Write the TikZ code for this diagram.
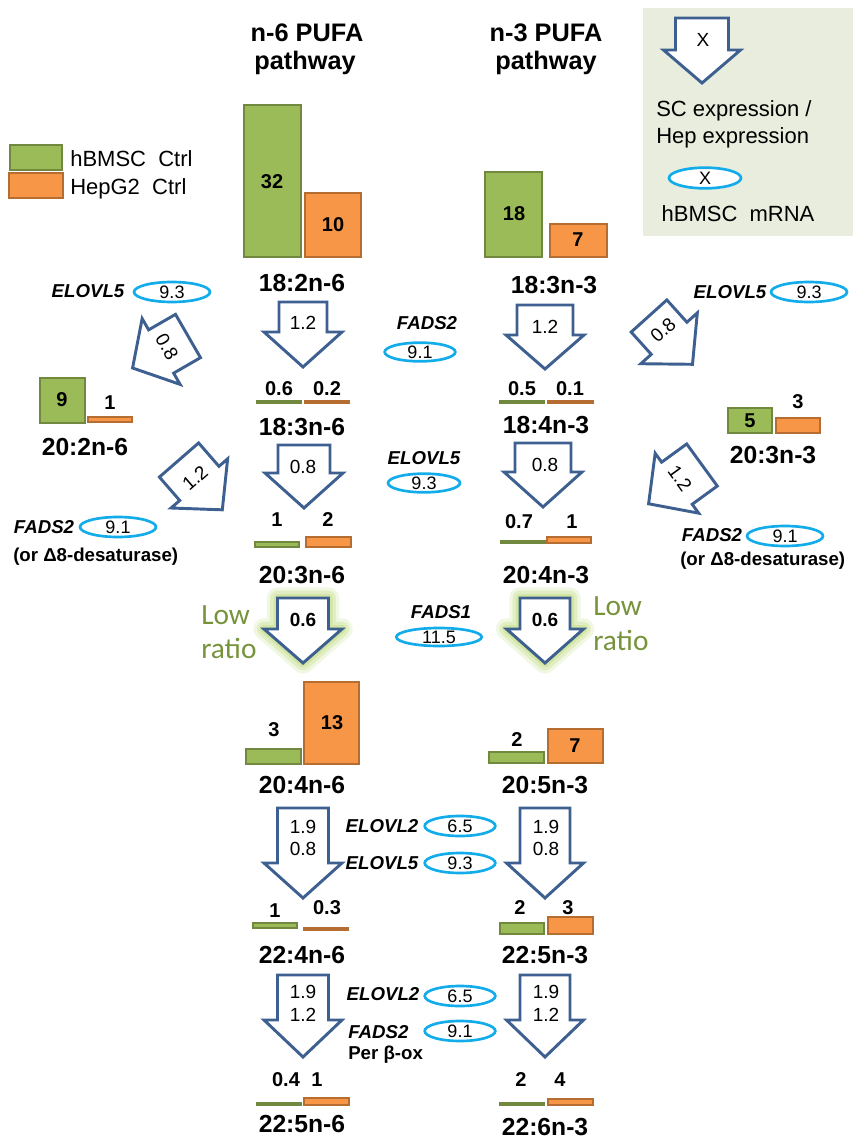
\documentclass[tikz,border=0pt]{standalone}
\usepackage{fontspec}
\setmainfont{Liberation Sans}
\newfontfamily\calib{Carlito}
\usetikzlibrary{shapes.geometric}

\definecolor{abl}{HTML}{3D6090}
\definecolor{ecy}{HTML}{12ACEA}
\definecolor{gfill}{HTML}{9BBB59}
\definecolor{gline}{HTML}{71893F}
\definecolor{ofill}{HTML}{F79646}
\definecolor{oline}{HTML}{B66D31}
\definecolor{legbg}{HTML}{E8EDDD}
\definecolor{lowtxt}{HTML}{77933C}
\definecolor{glowc}{HTML}{C5DE8A}

% block arrow: #1 extra style, #2 name, #3,#4 centre of the back edge,
% #5 rotation, #6 half shaft width, #7 half head width, #8 head start, #9 tip
\newcommand{\blockarrow}[9]{%
  \begin{scope}[shift={(#3,#4)}, rotate=#5]
    \coordinate (#2) at (0,#9/2);
    \draw[arrowline,#1] (-#6,0) -- (#6,0) -- (#6,#8) -- (#7,#8) -- (0,#9)
      -- (-#7,#8) -- (-#6,#8) -- cycle;
  \end{scope}}

\begin{document}
\begin{tikzpicture}[x=0.75pt,y=-0.75pt,
  arrowline/.style={draw=abl, line width=2.2pt, fill=white},
  glow/.style={
    preaction={draw=glowc, draw opacity=0.25, line width=16pt, line join=round},
    preaction={draw=glowc, draw opacity=0.35, line width=11pt, line join=round},
    preaction={draw=glowc, draw opacity=0.55, line width=6pt, line join=round}},
  gbar/.style={draw=gline, fill=gfill, line width=1.1pt},
  obar/.style={draw=oline, fill=ofill, line width=1.1pt},
  ttl/.style={font=\bfseries\fontsize{19}{22}\selectfont, inner sep=0},
  fa/.style={font=\bfseries\fontsize{18.5}{21}\selectfont, inner sep=0},
  val/.style={font=\bfseries\fontsize{15}{17}\selectfont, inner sep=0},
  num/.style={font=\fontsize{14.25}{16.5}\selectfont, inner sep=0, align=center},
  gene/.style={font=\bfseries\itshape\fontsize{14}{16}\selectfont, inner sep=0},
  genenote/.style={font=\bfseries\fontsize{14}{16}\selectfont, inner sep=0},
  legtxt/.style={font=\fontsize{16.5}{19}\selectfont, inner sep=0},
  lowtext/.style={font=\calib\fontsize{22}{26}\selectfont, text=lowtxt, inner sep=0},
  mrna/.style={ellipse, draw=ecy, line width=2pt, fill=white, inner sep=0,
    minimum width=57pt, minimum height=15pt, font=\fontsize{13.5}{16}\selectfont},
]
\useasboundingbox (0,0) rectangle (853,1141);

% ---------- key panel ----------
\fill[legbg] (643,8) rectangle (853,236);
\blockarrow{}{legarrow}{702}{18}{0}{26.5}{38.5}{32}{65}
\node[num] (legx) at (703,40) {X};
\node[legtxt, anchor=base west] (legsc) at (656,117) {SC expression /};
\node[legtxt, anchor=base west] (leghep) at (656,144) {Hep expression};
\node[mrna, minimum width=54pt, minimum height=15.5pt] (legmrna) at (705,178) {X};
\node[legtxt, anchor=base] (legmrnatxt) at (738,222) {hBMSC\ \ mRNA};

% ---------- bar colours ----------
\draw[gbar] (10,145) rectangle (62,170);
\draw[obar] (9,173) rectangle (63,198);
\node[legtxt, anchor=base west] (leghb) at (70,167) {hBMSC\ \ Ctrl};
\node[legtxt, anchor=base west] (leghg) at (70,195) {HepG2\ \ Ctrl};

% ---------- titles ----------
\node[ttl, anchor=base] (t6a) at (307,42) {n-6 PUFA};
\node[ttl, anchor=base] (t6b) at (305,70) {pathway};
\node[ttl, anchor=base] (t3a) at (546,42) {n-3 PUFA};
\node[ttl, anchor=base] (t3b) at (546,70) {pathway};

% ---------- 18:2n-6 / 18:3n-3 ----------
\draw[gbar] (244,105) rectangle (301,257); \node[val] (v32) at (272,182) {32};
\draw[obar] (305,193) rectangle (361,257); \node[val] (v10) at (333,225) {10};
\draw[gbar] (485,172) rectangle (542,257); \node[val] (v18) at (514,214) {18};
\draw[obar] (550,224) rectangle (607,257); \node[val] (v7a) at (578,240) {7};
\node[fa] (fa182) at (302,283) {18:2n-6};
\node[fa] (fa183) at (554,285) {18:3n-3};

% step 1
\blockarrow{}{a1l}{303}{302}{0}{24}{39}{30}{65}
\node[num] (r1l) at (303,323) {1.2};
\blockarrow{}{a1r}{545}{305}{0}{28}{39}{30}{64}
\node[num] (r1r) at (545,327) {1.2};

\node[gene] (g1) at (88,291) {ELOVL5};
\node[mrna] (m1) at (172,292) {9.3};
\node[gene] (g2) at (427,323) {FADS2};
\node[mrna, minimum width=53pt, minimum height=14pt] (m2) at (420,352) {9.1};
\node[gene] (g3) at (730,292) {ELOVL5};
\node[mrna] (m3) at (809,292) {9.3};

% side branches
\blockarrow{}{d1}{188}{336}{-60}{25}{38}{31}{64}
\node[num, rotate=-60] (rd1) at (167,347) {0.8};
\blockarrow{}{d2}{179}{460}{41}{26}{37.5}{31}{66}
\node[num, rotate=41] (rd2) at (195,478) {1.2};
\blockarrow{}{d3}{649}{316}{42}{24}{38}{30}{65}
\node[num, rotate=42] (rd3) at (663,330) {0.8};
\blockarrow{}{d4}{702}{465}{-54}{26}{37}{31}{66}
\node[num, rotate=-54] (rd4) at (680,478) {1.2};

% ---------- 18:3n-6 / 18:4n-3 ----------
\draw[gbar, line width=0.8pt] (257,401) rectangle (301,403); \node[val] (v06) at (279,389) {0.6};
\draw[obar, line width=0.8pt] (305,401) rectangle (349,403); \node[val] (v02) at (327,389) {0.2};
\draw[gbar, line width=0.8pt] (500,401) rectangle (544,403); \node[val] (v05) at (522,389) {0.5};
\draw[obar, line width=0.8pt] (548,401) rectangle (593,403); \node[val] (v01) at (570,389) {0.1};
\node[fa] (fa183n6) at (302,427) {18:3n-6};
\node[fa] (fa184) at (546,425) {18:4n-3};

% 20:2n-6
\draw[gbar] (40,378) rectangle (85,423); \node[val] (v9) at (62,400) {9};
\draw[obar] (88,417) rectangle (132,422); \node[val] (v1a) at (110,403) {1};
\node[fa] (fa202) at (85,447) {20:2n-6};

% 20:3n-3
\draw[gbar] (728,408) rectangle (772,433); \node[val] (v5) at (750,421) {5};
\draw[obar] (776,418) rectangle (820,433); \node[val] (v3a) at (798,402) {3};
\node[fa] (fa203) at (773,455) {20:3n-3};

% step 2
\blockarrow{}{a2l}{304}{445}{0}{26}{39}{28}{63}
\node[num] (r2l) at (303,467) {0.8};
\blockarrow{}{a2r}{543}{443}{0}{28}{39}{29}{64}
\node[num] (r2r) at (545,465) {0.8};

\node[gene] (g4) at (424,458) {ELOVL5};
\node[mrna, minimum width=54pt, minimum height=14pt] (m4) at (424,483) {9.3};
\node[gene] (g5) at (44,527) {FADS2};
\node[mrna] (m5) at (118,527) {9.1};
\node[genenote, anchor=base west] (g5b) at (13,561) {(or Δ8-desaturase)};
\node[gene] (g6) at (712,535) {FADS2};
\node[mrna] (m6) at (785,536) {9.1};
\node[genenote, anchor=base west] (g6b) at (680,565) {(or Δ8-desaturase)};

% ---------- 20:3n-6 / 20:4n-3 ----------
\draw[gbar] (255,542) rectangle (299,547); \node[val] (v1b) at (277,520) {1};
\draw[obar] (306,537) rectangle (351,547); \node[val] (v2b) at (328,520) {2};
\draw[gbar, line width=0.8pt] (501,541) rectangle (546,543); \node[val] (v07) at (519,522) {0.7};
\draw[obar] (547,537) rectangle (591,543); \node[val] (v1c) at (572,522) {1};
\node[fa] (fa203n6) at (302,575) {20:3n-6};
\node[fa] (fa204n3) at (546,575) {20:4n-3};

% step 3 (FADS1)
\blockarrow{glow}{a3l}{303}{598}{0}{25.5}{39}{31}{65}
\node[num, font=\bfseries\fontsize{14.25}{16.5}\selectfont] (r3l) at (303,620) {0.6};
\blockarrow{glow}{a3r}{545}{598}{0}{25}{38.5}{31}{65}
\node[num, font=\bfseries\fontsize{14.25}{16.5}\selectfont] (r3r) at (545,620) {0.6};
\node[lowtext, anchor=base west] (low1) at (201,624) {Low};
\node[lowtext, anchor=base west] (low2) at (201,658) {ratio};
\node[lowtext, anchor=base west] (low3) at (593,615) {Low};
\node[lowtext, anchor=base west] (low4) at (593,650) {ratio};
\node[gene] (g7) at (441,612) {FADS1};
\node[mrna, minimum width=64pt, minimum height=13.5pt] (m7) at (439,637) {11.5};

% ---------- 20:4n-6 / 20:5n-3 ----------
\draw[gbar] (246,749) rectangle (301,764); \node[val] (v3b) at (274,730) {3};
\draw[obar] (304,682) rectangle (359,764); \node[val] (v13) at (332,723) {13};
\draw[gbar] (489,752) rectangle (544,763); \node[val] (v2a) at (517,740) {2};
\draw[obar] (548,729) rectangle (603,763); \node[val] (v7b) at (575,746) {7};
\node[fa] (fa204) at (302,785) {20:4n-6};
\node[fa] (fa205) at (545,785) {20:5n-3};

% step 4
\blockarrow{}{a4l}{303}{808}{0}{25.5}{39}{55}{90}
\node[num] (r4l) at (303,838) {1.9\\0.8};
\blockarrow{}{a4r}{545}{808}{0}{25}{38.5}{55}{90}
\node[num] (r4r) at (546,838) {1.9\\0.8};
\node[gene] (g8) at (382,826) {ELOVL2};
\node[mrna, minimum width=53pt] (m8) at (460,826) {6.5};
\node[gene] (g9) at (382,863) {ELOVL5};
\node[mrna, minimum width=53pt] (m9) at (460,863) {9.3};

% ---------- 22:4n-6 / 22:5n-3 ----------
\draw[gbar] (253,923) rectangle (297,928); \node[val] (v1d) at (275,911) {1};
\draw[obar, line width=0.8pt] (304,928) rectangle (348,930); \node[val] (v03) at (327,908) {0.3};
\draw[gbar] (500,923) rectangle (544,934); \node[val] (v2c) at (520,908) {2};
\draw[obar] (548,917) rectangle (593,934); \node[val] (v3c) at (568,908) {3};
\node[fa] (fa224) at (302,955) {22:4n-6};
\node[fa] (fa225) at (545,955) {22:5n-3};

% step 5
\blockarrow{}{a5l}{303}{975}{0}{25.5}{39}{45}{82}
\node[num, font=\fontsize{14.25}{17.25}\selectfont] (r5l) at (303,1003.5) {1.9\\1.2};
\blockarrow{}{a5r}{545}{975}{0}{25}{38.5}{45}{82}
\node[num, font=\fontsize{14.25}{17.25}\selectfont] (r5r) at (546,1003.5) {1.9\\1.2};
\node[gene] (g10) at (383,994) {ELOVL2};
\node[mrna, minimum width=53pt] (m10) at (460,996) {6.5};
\node[gene, anchor=west] (g11) at (348,1032) {FADS2};
\node[mrna, minimum width=53pt] (m11) at (460,1031) {9.1};
\node[genenote, anchor=base west] (g12) at (348,1059) {Per β-ox};

% ---------- 22:5n-6 / 22:6n-3 ----------
\draw[gbar, line width=0.8pt] (257,1103) rectangle (301,1105); \node[val] (v04) at (286,1080) {0.4};
\draw[obar] (304,1098) rectangle (349,1105); \node[val] (v1e) at (317,1080) {1};
\draw[gbar, line width=0.8pt] (500,1103) rectangle (544,1105); \node[val] (v2d) at (521,1080) {2};
\draw[obar] (548,1099) rectangle (593,1105); \node[val] (v4) at (560,1080) {4};
\node[fa] (fa225n6) at (302,1124) {22:5n-6};
\node[fa] (fa226) at (545,1127) {22:6n-3};
\end{tikzpicture}
\end{document}
